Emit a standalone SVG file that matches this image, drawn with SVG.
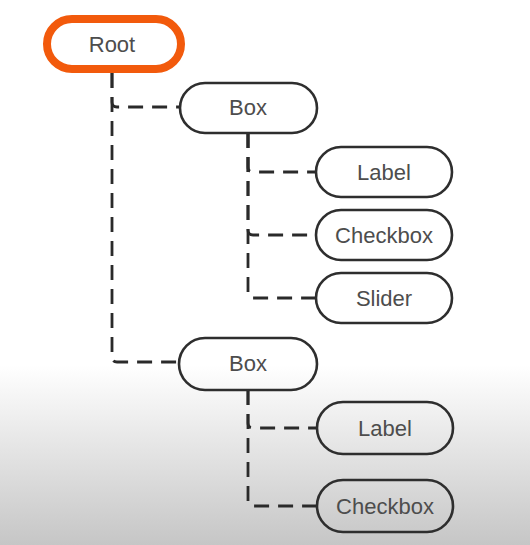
<svg xmlns="http://www.w3.org/2000/svg" width="530" height="545" viewBox="0 0 530 545">
<defs>
<linearGradient id="bg" x1="0" y1="0" x2="0" y2="1">
<stop offset="0" stop-color="#ffffff"/>
<stop offset="0.67" stop-color="#ffffff"/>
<stop offset="1" stop-color="#c6c6c6"/>
</linearGradient>
</defs>
<style>
.node{fill:none;stroke:#2e2e2e;stroke-width:2.6}
.root{fill:#ffffff;stroke:#f25a0c;stroke-width:8}
.lbl{font-family:"Liberation Sans",Arial,sans-serif;font-size:22px;fill:#4d4d4d;text-anchor:middle}
.conn{fill:none;stroke:#2a2a2a;stroke-width:2.8;stroke-dasharray:15 9}
</style>
<rect x="0" y="0" width="530" height="545" fill="url(#bg)"/>
<g id="connectors">
<path class="conn" d="M112 73 V102 Q112 107 117 107 H180"/>
<path class="conn" d="M112 73 V357 Q112 362 117 362 H179"/>
<path class="conn" d="M248 133 V167 Q248 172 253 172 H316"/>
<path class="conn" d="M248 133 V230 Q248 235 253 235 H316"/>
<path class="conn" d="M248 133 V293 Q248 298 253 298 H316"/>
<path class="conn" d="M248 390 V423 Q248 428 253 428 H317"/>
<path class="conn" d="M248 390 V501 Q248 506 253 506 H317"/>
</g>
<g id="root">
<rect class="root" x="47" y="19" width="134" height="50" rx="25"/>
<text class="lbl" x="112" y="52">Root</text>
</g>
<g id="box1">
<rect class="node" x="180" y="83" width="137" height="50" rx="25" fill="#fff"/>
<text class="lbl" x="248" y="115">Box</text>
</g>
<g id="label1">
<rect class="node" x="316" y="147" width="136" height="50" rx="25"/>
<text class="lbl" x="384" y="180">Label</text>
</g>
<g id="checkbox1">
<rect class="node" x="316" y="210" width="136" height="50" rx="25"/>
<text class="lbl" x="384" y="243">Checkbox</text>
</g>
<g id="slider">
<rect class="node" x="316" y="273" width="136" height="50" rx="25"/>
<text class="lbl" x="384" y="306">Slider</text>
</g>
<g id="box2">
<rect class="node" x="179" y="338" width="138" height="52" rx="26"/>
<text class="lbl" x="248" y="371">Box</text>
</g>
<g id="label2">
<rect class="node" x="317" y="402" width="136" height="52" rx="26"/>
<text class="lbl" x="385" y="436">Label</text>
</g>
<g id="checkbox2">
<rect class="node" x="317" y="480" width="136" height="52" rx="26"/>
<text class="lbl" x="385" y="514">Checkbox</text>
</g>
</svg>
